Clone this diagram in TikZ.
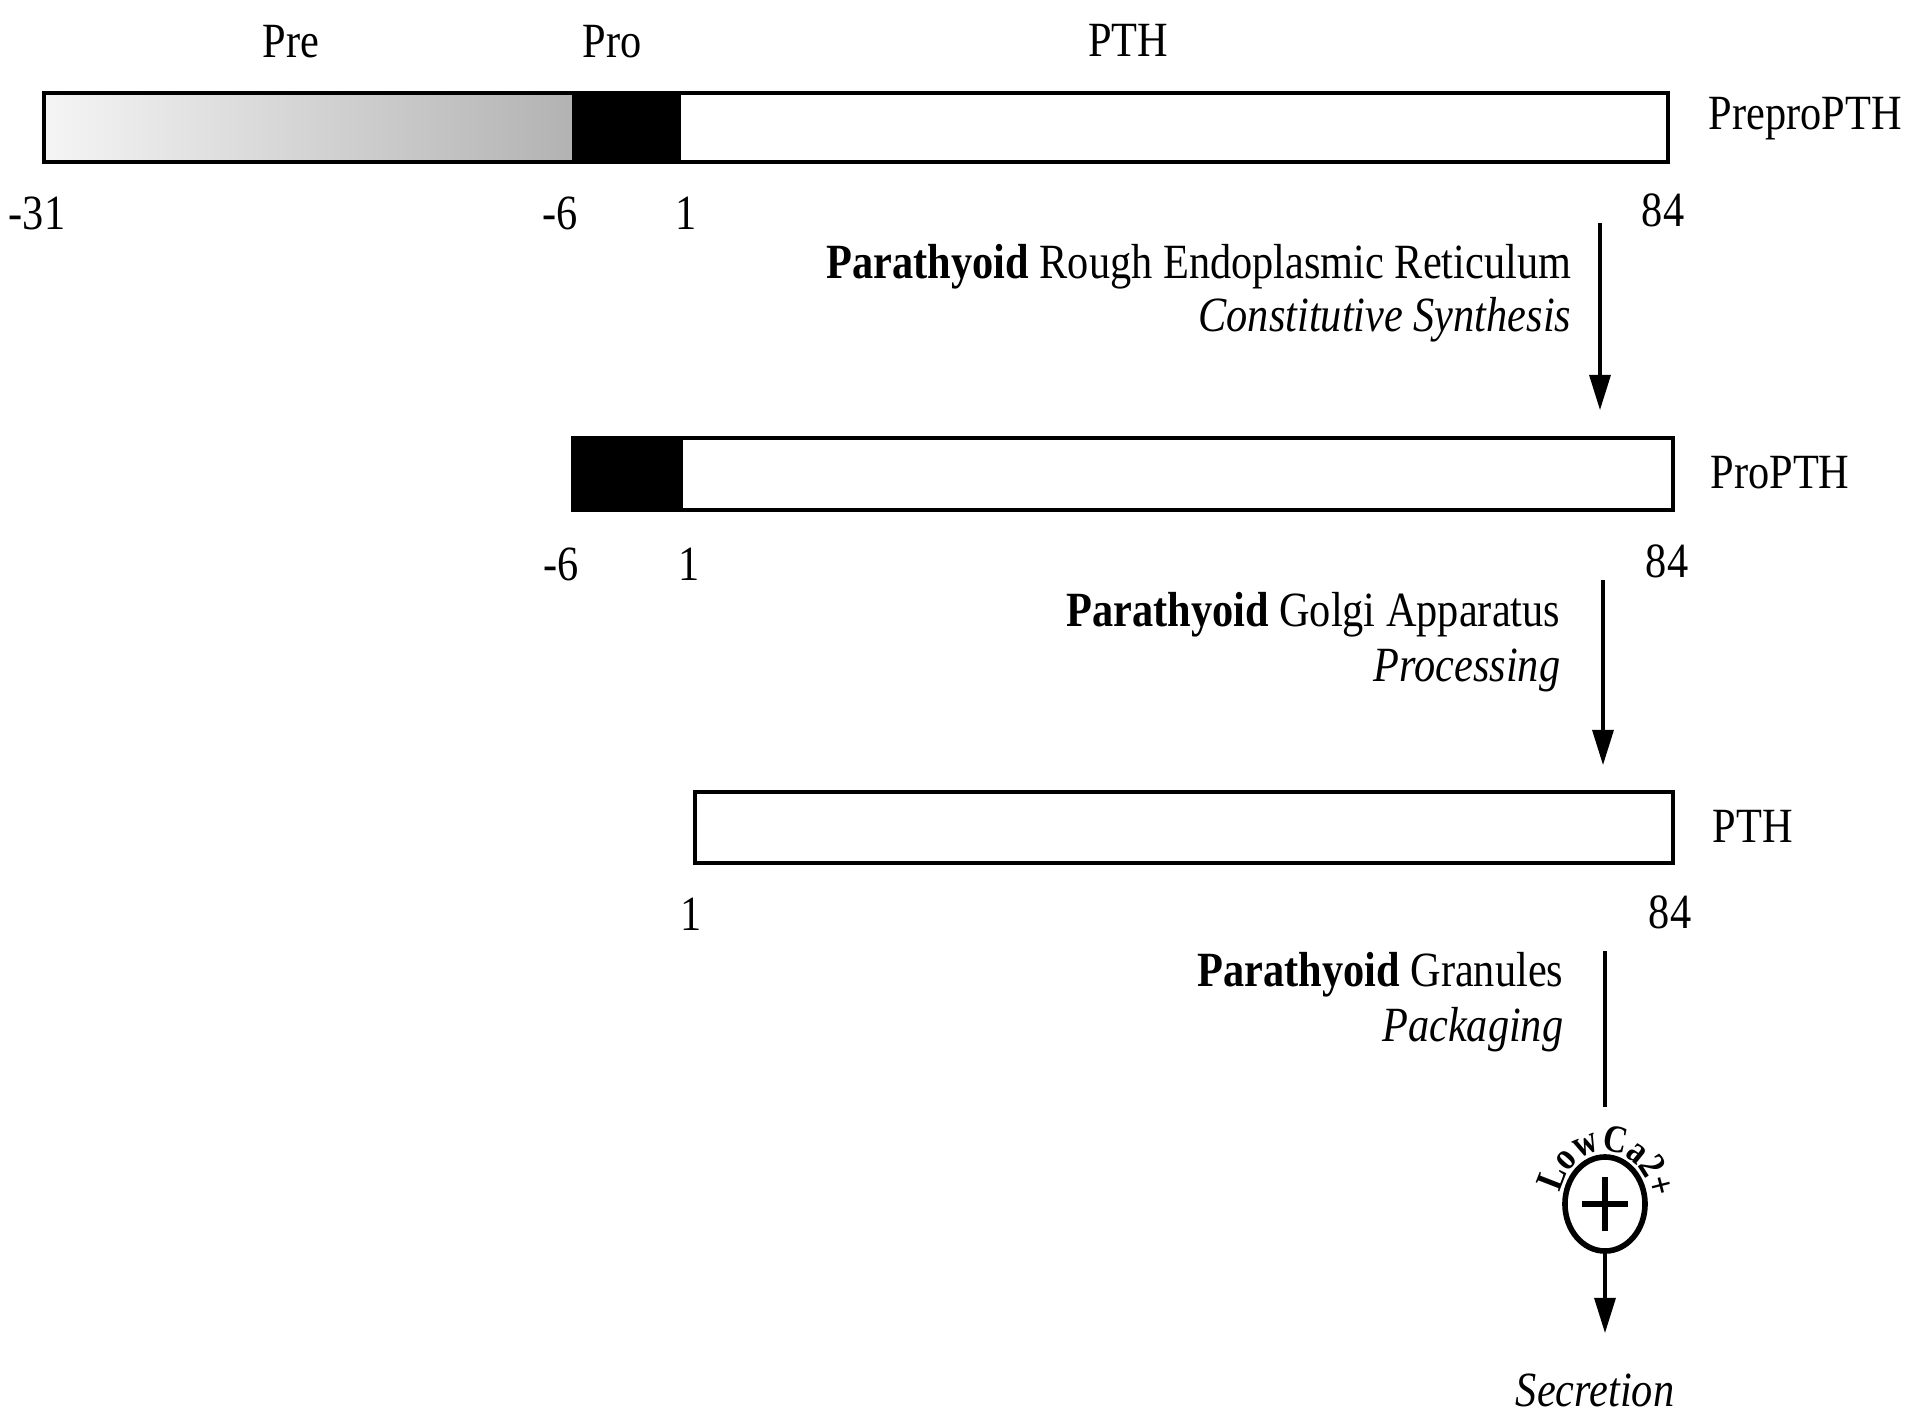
\documentclass[tikz,border=0pt]{standalone}
\usepackage{fontspec}
\setmainfont{Liberation Serif}[FakeStretch=0.86]
\usetikzlibrary{arrows.meta,decorations.text,shapes.geometric}
\begin{document}
\begin{tikzpicture}[x=0.01cm,y=-0.01cm,
  lbl/.style={font=\fontsize{14}{16}\selectfont, inner sep=0pt},
  barline/.style={line width=1.4pt},
  flow/.style={line width=0.9pt},
  tip/.style={-{Triangle[length=10pt,width=6pt]}}]
\useasboundingbox[fill=white] (0,0) rectangle (1911,1414);

% ---- PreproPTH bar
\shade[left color=gray!8, right color=gray!60] (44,93) rectangle (572,162);
\fill[black] (572,93) rectangle (681,162);
\draw[barline] (44,93) rectangle (1668,162);
\node[lbl] (pre) at (291,42) {Pre};
\node[lbl] (pro) at (612,42) {Pro};
\node[lbl] (pthtop) at (1128,40) {PTH};
\node[lbl, anchor=west] (prepro) at (1708,119) {PreproPTH};
\node[lbl] (n1a) at (37,213) {-31};
\node[lbl] (n1b) at (560,213) {-6};
\node[lbl] (n1c) at (686,213) {1};
\node[lbl] (n1d) at (1663,210) {84};

% ---- step 1
\coordinate (a1s) at (1600,223);
\coordinate (a1e) at (1600,410);
\draw[flow, tip] (a1s) -- (a1e);
\node[lbl, anchor=east] (t1a) at (1572,267) {\textbf{Parathyoid} Rough Endoplasmic Reticulum};
\node[lbl, anchor=east] (t1b) at (1572,320) {\textit{Constitutive Synthesis}};

% ---- ProPTH bar
\fill[black] (573,438) rectangle (683,510);
\draw[barline] (573,438) rectangle (1673,510);
\node[lbl, anchor=west] (propth) at (1710,473) {ProPTH};
\node[lbl] (n2b) at (561,564) {-6};
\node[lbl] (n2c) at (689,564) {1};
\node[lbl] (n2d) at (1667,561) {84};

% ---- step 2
\coordinate (a2s) at (1603,580);
\coordinate (a2e) at (1603,765);
\draw[flow, tip] (a2s) -- (a2e);
\node[lbl, anchor=east] (t2a) at (1561,615) {\textbf{Parathyoid} Golgi Apparatus};
\node[lbl, anchor=east] (t2b) at (1561,670) {\textit{Processing}};

% ---- PTH bar
\draw[barline] (695,792) rectangle (1673,863);
\node[lbl, anchor=west] (pth) at (1712,826) {PTH};
\node[lbl] (n3c) at (691,914) {1};
\node[lbl] (n3d) at (1670,912) {84};

% ---- step 3
\coordinate (a3s) at (1605,951);
\coordinate (a3e) at (1605,1107);
\node[ellipse, draw, line width=1.6pt, minimum width=0.8cm, minimum height=0.94cm, inner sep=0pt] (plus) at (1605,1204) {};
\draw[line width=1.7pt] ([xshift=-0.23cm]plus.center) -- ([xshift=0.23cm]plus.center);
\draw[line width=1.7pt] ([yshift=-0.27cm]plus.center) -- ([yshift=0.27cm]plus.center);
\draw[flow] (a3s) -- (a3e);
\node[lbl, anchor=east] (t3a) at (1564,975) {\textbf{Parathyoid} Granules};
\node[lbl, anchor=east] (t3b) at (1564,1030) {\textit{Packaging}};
\path[decorate, decoration={text along path, text={|\fontsize{11}{11}\selectfont\bfseries|LowCa2+}, text align=center}]
  (1605,1204) ++(188:46 and 53) arc[start angle=188, end angle=358, x radius=46, y radius=53];
\coordinate (sece) at (1605,1333);
\draw[flow, tip] (plus.south) -- (sece);
\node[lbl] (sec) at (1595,1390) {\textit{Secretion}};
\end{tikzpicture}
\end{document}
